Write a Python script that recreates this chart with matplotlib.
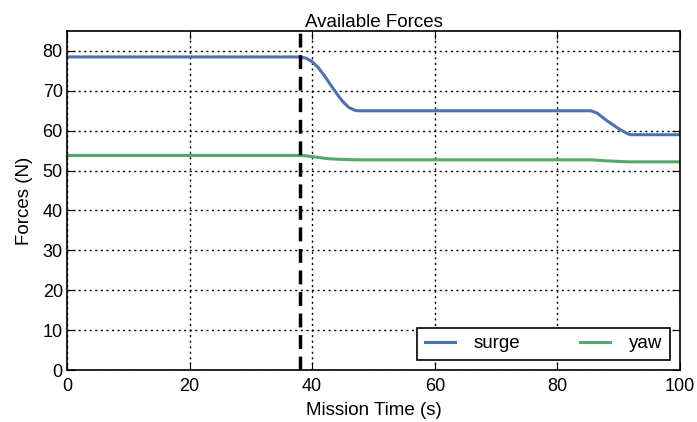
import matplotlib
matplotlib.use('Agg')
import matplotlib.pyplot as plt

plt.rcParams['font.family'] = ['Liberation Sans', 'DejaVu Sans']

# Mission time samples (s)
time_s = [0, 38, 39, 40, 41, 42, 43, 44, 45, 46, 47, 47.5, 85.5, 86.5, 88, 90, 91.5, 92, 100]
# Available surge force (N)
surge = [78.5, 78.5, 78.2, 77.3, 75.8, 73.8, 71.5, 69.3, 67.3, 65.8, 65.1, 65.0,
         65.0, 64.4, 62.6, 60.5, 59.2, 59.0, 59.0]
# Available yaw force (N)
yaw = [53.8, 53.8, 53.7, 53.5, 53.3, 53.1, 52.95, 52.85, 52.8, 52.75, 52.7, 52.7,
       52.7, 52.6, 52.45, 52.3, 52.2, 52.2, 52.2]
event_time = 38.0

fig = plt.figure(figsize=(6.97, 4.22), dpi=100)
ax = fig.add_axes([0.0961, 0.1232, 0.8795, 0.8033])

ax.plot(time_s, surge, color='#4C72B0', lw=2.2, label='surge')
ax.plot(time_s, yaw, color='#55A868', lw=2.2, label='yaw')
ax.axvline(event_time, color='black', lw=2.5, linestyle=(0, (4, 2.2)))

ax.set_xlim(0, 100)
ax.set_ylim(0, 85)
ax.set_xticks([0, 20, 40, 60, 80, 100])
ax.set_yticks(range(0, 90, 10))
ax.grid(True, color='black', linestyle=(0, (1.5, 2.5)), lw=1)
ax.tick_params(direction='in', top=True, right=True, length=6, labelsize=13)
ax.tick_params(axis='x', pad=6)
ax.tick_params(axis='y', pad=3)
for sp in ax.spines.values():
    sp.set_linewidth(1.2)

ax.set_title('Available Forces', fontsize=13.5, pad=3)
ax.set_xlabel('Mission Time (s)', fontsize=13.5, labelpad=5)
ax.set_ylabel('Forces (N)', fontsize=13.5, labelpad=7)

leg = ax.legend(loc='lower right', ncol=2, fancybox=False, framealpha=1,
                edgecolor='black', fontsize=13.5, handlelength=1.6, handletextpad=1.0,
                columnspacing=3.2, borderaxespad=0.55)
leg.get_frame().set_linewidth(1.2)

fig.savefig('out.png', dpi=100)
